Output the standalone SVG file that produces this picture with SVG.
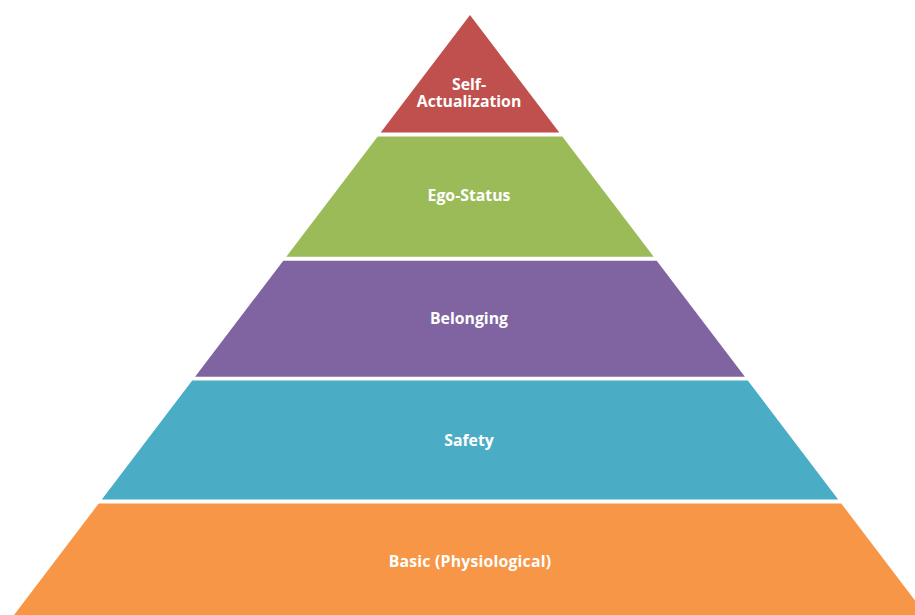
<svg xmlns="http://www.w3.org/2000/svg" width="915" height="615" viewBox="0 0 915 615">
<style>
.lbl{font-family:"Open Sans","Liberation Sans",sans-serif;font-weight:bold;font-size:15.8px;fill:#ffffff;text-anchor:middle}
</style>
<rect width="915" height="615" fill="#ffffff"/>
<g id="self-actualization">
<polygon points="470,15 559.3,132.5 380.7,132.5" fill="#C0504D"/>
<text class="lbl"><tspan x="469" y="90.3">Self-</tspan><tspan x="469" y="106.5">Actualization</tspan></text>
</g>
<g id="ego-status">
<polygon points="377.7,136.5 562.3,136.5 653.7,256.7 286.3,256.7" fill="#9BBB59"/>
<text class="lbl" x="469" y="200.7">Ego-Status</text>
</g>
<g id="belonging">
<polygon points="283.3,260.7 656.7,260.7 744.9,376.7 195.1,376.7" fill="#8064A2"/>
<text class="lbl" x="469" y="324">Belonging</text>
</g>
<g id="safety">
<polygon points="192.2,380.5 747.8,380.5 838.2,499.5 101.8,499.5" fill="#4BACC6"/>
<text class="lbl" x="469" y="445.7">Safety</text>
</g>
<g id="basic">
<polygon points="98.7,503.5 841.3,503.5 926,615 14,615" fill="#F79646"/>
<text class="lbl" x="470" y="566.5" letter-spacing="0.2">Basic (Physiological)</text>
</g>
<g id="connectors"></g>
</svg>
